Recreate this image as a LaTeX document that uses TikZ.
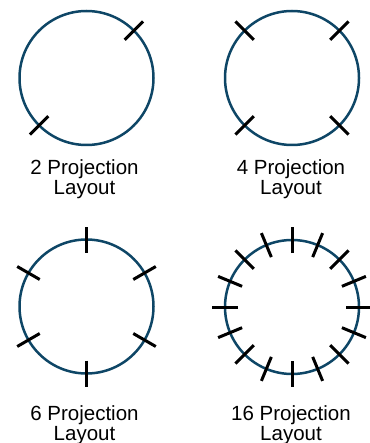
\documentclass[tikz,border=0pt]{standalone}
\usepackage{fontspec}
\setmainfont{Liberation Sans}
\usetikzlibrary{calc}
\definecolor{ringblue}{RGB}{14,70,102}
\tikzset{
  ring/.style={draw=ringblue, line width=2.5pt},
  tick/.style={draw=black, line width=3pt},
  caption/.style={font=\fontsize{20.5}{19.5}\selectfont, align=center, anchor=base, inner sep=0pt}
}
\begin{document}
\begin{tikzpicture}[x=1pt,y=1pt]
\useasboundingbox (0,0) rectangle (369,-443);
\coordinate (c1) at (86.5,-78);
\coordinate (c2) at (292,-78);
\coordinate (c3) at (86.5,-306.5);
\coordinate (c4) at (292,-307);
\foreach \c in {c1,c2,c3,c4} {\draw[ring] (\c) circle[radius=67];}
\foreach \a in {45,225} {\draw[tick] ($(c1)+(\a:54)$) -- ($(c1)+(\a:80)$);}
\foreach \a in {45,135,225,315} {\draw[tick] ($(c2)+(\a:54)$) -- ($(c2)+(\a:80)$);}
\foreach \a in {30,90,...,330} {\draw[tick] ($(c3)+(\a:54)$) -- ($(c3)+(\a:80)$);}
\foreach \a in {0,22.5,...,337.5} {\draw[tick] ($(c4)+(\a:54)$) -- ($(c4)+(\a:80)$);}
\node[caption] (t1) at (84.5,-194.3) {2 Projection\\Layout};
\node[caption] (t2) at (291,-194.3) {4 Projection\\Layout};
\node[caption] (t3) at (84.5,-440) {6 Projection\\Layout};
\node[caption] (t4) at (291,-440) {16 Projection\\Layout};
\end{tikzpicture}
\end{document}
